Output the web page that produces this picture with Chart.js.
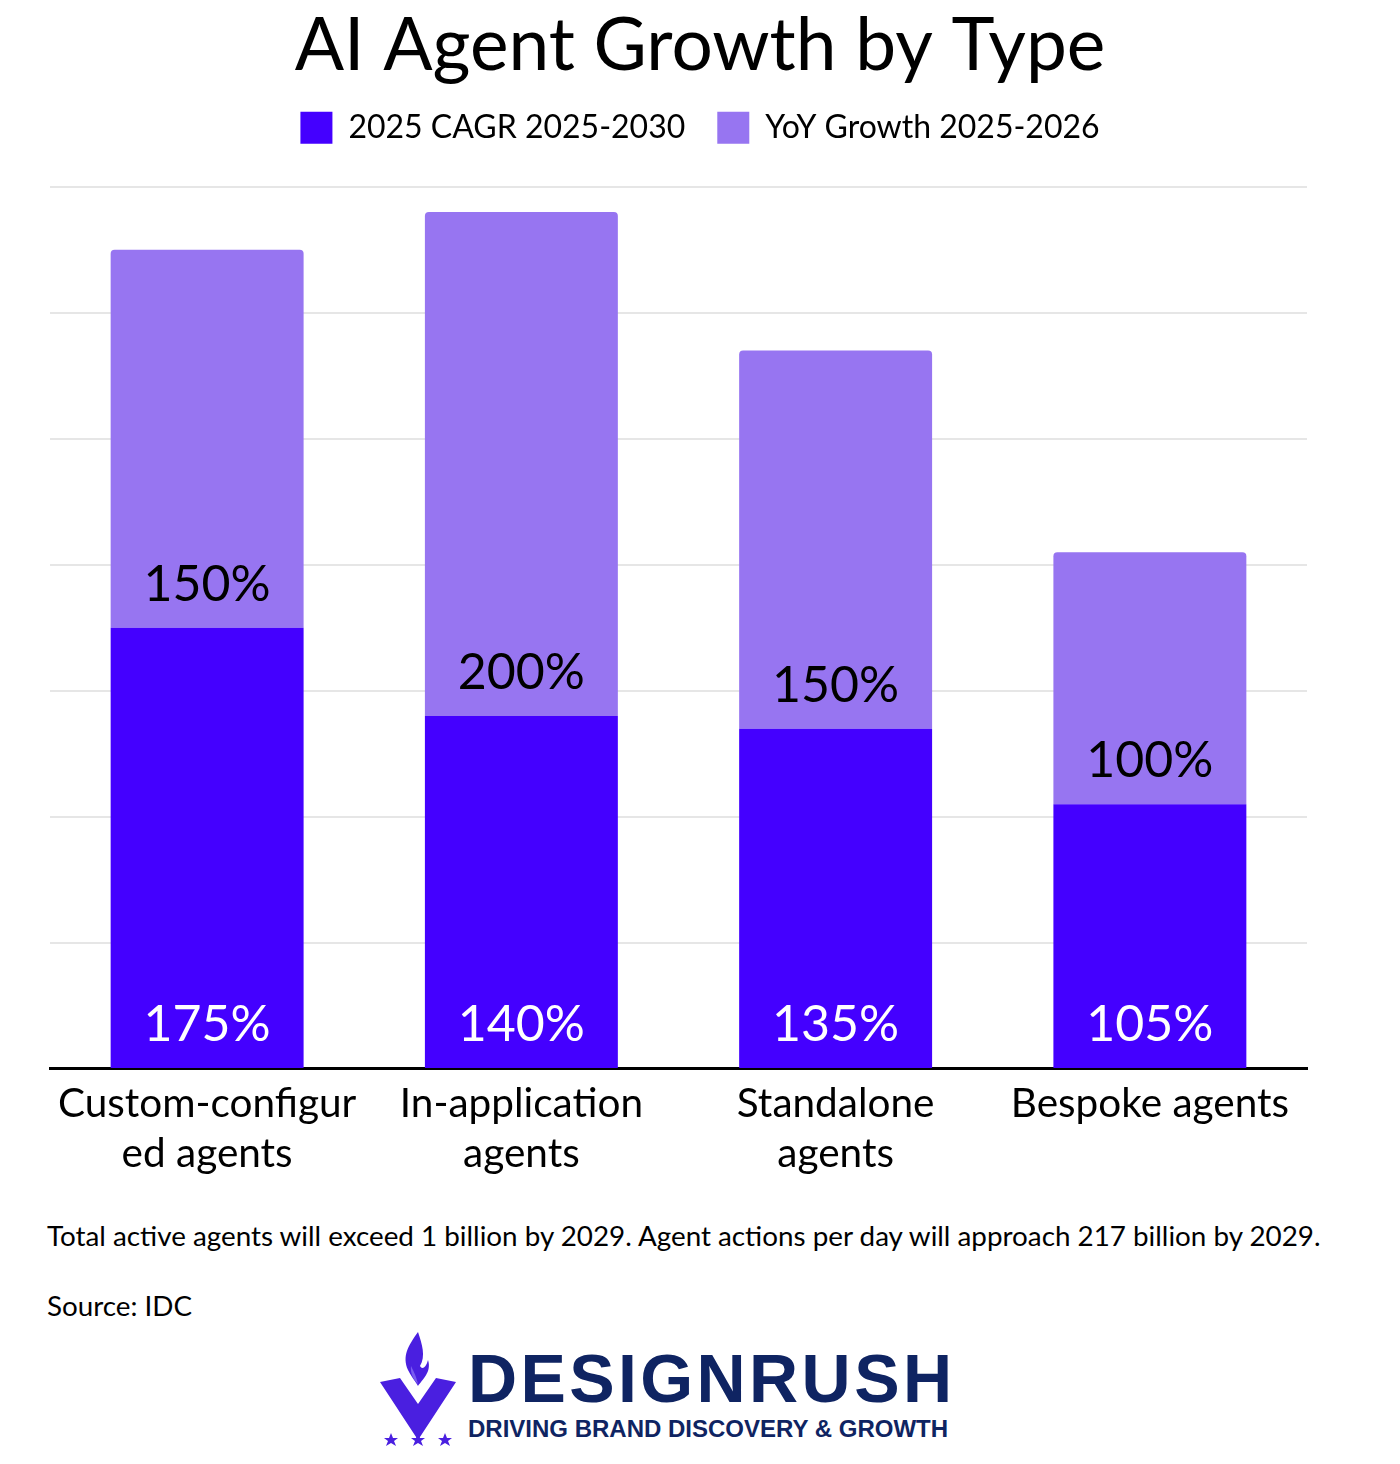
<!DOCTYPE html>
<html>
<head>
<meta charset="utf-8">
<title>AI Agent Growth by Type</title>
<script src="https://cdn.jsdelivr.net/npm/chart.js@4.4.1/dist/chart.umd.min.js"></script>
<style>
  html, body { margin: 0; padding: 0; background: #fff; }
  body { width: 1400px; height: 1464px; font-family: Lato, "Noto Sans", sans-serif; color: #000; }
  #chartBox { position: relative; width: 1400px; height: 1189px; }
  .note { position: absolute; left: 47px; font-size: 27.8px; white-space: nowrap; }
  #logo { position: absolute; left: 378px; top: 1330px; width: 600px; height: 130px; }
  #logo .brand { position: absolute; left: 90px; top: 14px; font-family: "Liberation Sans", Arial, sans-serif; font-weight: 700; font-size: 68px; color: #0f2462; letter-spacing: 3.4px; line-height: 1; }
  #logo .tag { position: absolute; left: 90px; top: 87px; font-family: "Liberation Sans", Arial, sans-serif; font-weight: 700; font-size: 24px; color: #0f2462; line-height: 1; }
</style>
</head>
<body>
<div id="chartBox"><canvas id="growthChart"></canvas></div>
<div class="note" style="top:1219px;">Total active agents will exceed 1 billion by 2029. Agent actions per day will approach 217 billion by 2029.</div>
<div class="note" style="top:1289px;">Source: IDC</div>
<div id="logo">
  <svg width="80" height="125" viewBox="0 0 80 125" style="position:absolute;left:0;top:0;">
    <path d="M2 52 L22 48 L40 74 L58 48 L78 52 L40 110 Z" fill="#4a1fe0"/>
    <path d="M40 2 C30 16 24 26 30 40 C34 48 38 52 40 56 C44 50 54 42 50 30 C48 38 44 40 42 36 C48 26 44 14 40 2 Z" fill="#4a1fe0"/>
    <path d="M33 36 C32 44 36 50 40 54 C38 46 36 42 33 36 Z" fill="#7a5cf0"/>
    <g fill="#4a1fe0">
      <polygon points="13,103 15,108 20,108 16,111 18,116 13,113 8,116 10,111 6,108 11,108"/>
      <polygon points="40,103 42,108 47,108 43,111 45,116 40,113 35,116 37,111 33,108 38,108"/>
      <polygon points="67,103 69,108 74,108 70,111 72,116 67,113 62,116 64,111 60,108 65,108"/>
    </g>
  </svg>
  <div class="brand">DESIGNRUSH</div>
  <div class="tag">DRIVING BRAND DISCOVERY &amp; GROWTH</div>
</div>
<script>
// data
const categories = [['Custom-configur', 'ed agents'], ['In-application', 'agents'], ['Standalone', 'agents'], ['Bespoke agents']];
const cagrValues = [175, 140, 135, 105];
const yoyValues = [150, 200, 150, 100];
const seriesNames = ['2025 CAGR 2025-2030', 'YoY Growth 2025-2026'];

const darkColor = '#4400ff';
const lightColor = '#9775f1';
const fontFamily = 'Lato, "Noto Sans", sans-serif';

// labels drawn just above the base of each segment
const segmentLabels = {
  id: 'segmentLabels',
  afterDatasetsDraw(chart) {
    const ctx = chart.ctx;
    ctx.save();
    ctx.font = '400 50px ' + fontFamily;
    ctx.textAlign = 'center';
    ctx.textBaseline = 'middle';
    chart.data.datasets.forEach(function(ds, i) {
      const meta = chart.getDatasetMeta(i);
      meta.data.forEach(function(bar, j) {
        ctx.fillStyle = i === 0 ? '#ffffff' : '#000000';
        ctx.fillText(ds.data[j] + '%', bar.x, bar.base - 43);
      });
    });
    ctx.restore();
  }
};

// extra space under the legend
const legendMargin = {
  id: 'legendMargin',
  beforeInit(chart) {
    const origFit = chart.legend.fit;
    chart.legend.fit = function() {
      origFit.bind(chart.legend)();
      this.height += 33;
    };
  }
};

new Chart(document.getElementById('growthChart'), {
  type: 'bar',
  data: {
    labels: categories,
    datasets: [
      {
        label: seriesNames[0],
        data: cagrValues,
        backgroundColor: darkColor,
        categoryPercentage: 1,
        barPercentage: 0.614
      },
      {
        label: seriesNames[1],
        data: yoyValues,
        backgroundColor: lightColor,
        borderRadius: { topLeft: 4, topRight: 4 },
        borderSkipped: false,
        categoryPercentage: 1,
        barPercentage: 0.614
      }
    ]
  },
  options: {
    responsive: true,
    maintainAspectRatio: false,
    animation: false,
    layout: { padding: { left: 50, right: 50, top: 0, bottom: 0 } },
    plugins: {
      title: {
        display: true,
        text: 'AI Agent Growth by Type',
        color: '#000',
        font: { family: fontFamily, size: 73, weight: '400', lineHeight: 0.9 },
        padding: { top: 14, bottom: 0 }
      },
      legend: {
        display: true,
        position: 'top',
        labels: {
          color: '#000',
          boxWidth: 32,
          boxHeight: 32,
          padding: 32,
          font: { family: fontFamily, size: 32 }
        }
      },
      tooltip: { enabled: false }
    },
    scales: {
      x: {
        stacked: true,
        z: 1,
        grid: { display: false, drawTicks: false },
        border: { display: true, color: '#000', width: 3 },
        ticks: {
          color: '#000',
          padding: 10,
          maxRotation: 0,
          autoSkip: false,
          font: { family: fontFamily, size: 40.5, lineHeight: 1.235 }
        }
      },
      y: {
        stacked: true,
        position: 'right',
        min: 0,
        max: 350,
        afterFit(scale) { scale.width = 43; },
        ticks: { display: false, stepSize: 50 },
        grid: { color: '#e6e6e6', lineWidth: 2, drawTicks: false },
        border: { display: false }
      }
    }
  },
  plugins: [segmentLabels, legendMargin]
});
</script>
</body>
</html>
